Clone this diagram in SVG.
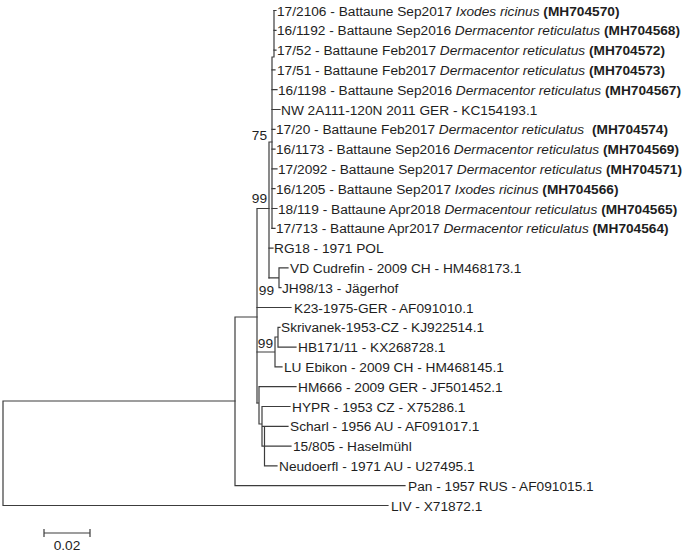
<svg xmlns="http://www.w3.org/2000/svg" width="685" height="554" viewBox="0 0 685 554">
<style>
.t{font-family:"Liberation Sans",Arial,sans-serif;font-size:13.7px;fill:#1e1e1e}
.bs{font-family:"Liberation Sans",Arial,sans-serif;font-size:13.7px;fill:#1e1e1e;text-anchor:end}
.i{font-style:italic}
.b{font-weight:bold}
.br{stroke:#3c3c3c;stroke-width:1.2;fill:none;stroke-linecap:square}
</style>
<rect width="685" height="554" fill="#ffffff"/>
<g id="branches" class="br">
<path d="M3,401V505.5M3,505.5H388M3,401H235"/>
<path d="M235,317V485.7M235,485.7H405M235,317H257"/>
<path d="M257,208.5V403M257,208.5H269"/>
<path d="M269,142V277.8M269,142H272"/>
<path d="M272,57V228.3M272,57H274M274,10.5V57"/>
<path d="M274,10.5H276M274,30.3H276M274,50.1H276"/>
<path d="M272,69.9H275M272,89.7H277M272,109.5H280M272,129.3H275M272,149.1H275M272,168.9H277M272,188.7H275M272,208.5H277M272,228.3H275"/>
<path d="M269,248.1H273M269,277.8H279M279,267.9V287.7M279,267.9H288M279,287.7H281"/>
<path d="M257,307.5H291"/>
<path d="M257,352H275M275,337V366.9M275,337H278M278,327.3V347.1M278,327.3H280M278,347.1H296M275,366.9H282"/>
<path d="M257,403H259M259,386.7V424M259,386.7H296M259,424H262M262,406.5V446.1M262,406.5H290M262,426.3H288M262,446.1H291M264.5,426.3V465.9M264.5,465.9H277"/>
</g>
<g id="bootstrap">
<text class="bs" x="267" y="140">75</text>
<text class="bs" x="267" y="203">99</text>
<text class="bs" x="274" y="295">99</text>
<text class="bs" x="273" y="348">99</text>
</g>
<g id="leaf1"><text class="t" x="277" y="15.5">17/2106 - Battaune Sep2017 <tspan class="i">Ixodes ricinus</tspan> <tspan class="b">(MH704570)</tspan></text></g>
<g id="leaf2"><text class="t" x="277" y="35.3">16/1192 - Battaune Sep2016 <tspan class="i">Dermacentor reticulatus</tspan> <tspan class="b">(MH704568)</tspan></text></g>
<g id="leaf3"><text class="t" x="277" y="55.1">17/52 - Battaune Feb2017 <tspan class="i">Dermacentor reticulatus</tspan> <tspan class="b">(MH704572)</tspan></text></g>
<g id="leaf4"><text class="t" x="277" y="74.9">17/51 - Battaune Feb2017 <tspan class="i">Dermacentor reticulatus</tspan> <tspan class="b">(MH704573)</tspan></text></g>
<g id="leaf5"><text class="t" x="278" y="94.7">16/1198 - Battaune Sep2016 <tspan class="i">Dermacentor reticulatus</tspan> <tspan class="b">(MH704567)</tspan></text></g>
<g id="leaf6"><text class="t" x="281" y="114.5">NW 2A111-120N 2011 GER - KC154193.1</text></g>
<g id="leaf7"><text class="t" x="276" y="134.3">17/20 - Battaune Feb2017 <tspan class="i">Dermacentor reticulatus</tspan> <tspan class="b" dx="4">(MH704574)</tspan></text></g>
<g id="leaf8"><text class="t" x="276" y="154.1">16/1173 - Battaune Sep2016 <tspan class="i">Dermacentor reticulatus</tspan> <tspan class="b">(MH704569)</tspan></text></g>
<g id="leaf9"><text class="t" x="278" y="173.9">17/2092 - Battaune Sep2017 <tspan class="i">Dermacentor reticulatus</tspan> <tspan class="b">(MH704571)</tspan></text></g>
<g id="leaf10"><text class="t" x="276" y="193.7">16/1205 - Battaune Sep2017 <tspan class="i">Ixodes ricinus</tspan> <tspan class="b">(MH704566)</tspan></text></g>
<g id="leaf11"><text class="t" x="278" y="213.5">18/119 - Battaune Apr2018 <tspan class="i">Dermacentour reticulatus</tspan> <tspan class="b">(MH704565)</tspan></text></g>
<g id="leaf12"><text class="t" x="276" y="233.3">17/713 - Battaune Apr2017 <tspan class="i">Dermacentor reticulatus</tspan> <tspan class="b">(MH704564)</tspan></text></g>
<g id="leaf13"><text class="t" x="274" y="253.1">RG18 - 1971 POL</text></g>
<g id="leaf14"><text class="t" x="290" y="272.9">VD Cudrefin - 2009 CH - HM468173.1</text></g>
<g id="leaf15"><text class="t" x="282" y="292.7">JH98/13 - Jägerhof</text></g>
<g id="leaf16"><text class="t" x="294" y="312.5">K23-1975-GER - AF091010.1</text></g>
<g id="leaf17"><text class="t" x="281" y="332.3">Skrivanek-1953-CZ - KJ922514.1</text></g>
<g id="leaf18"><text class="t" x="298" y="352.1">HB171/11 - KX268728.1</text></g>
<g id="leaf19"><text class="t" x="284" y="371.9">LU Ebikon - 2009 CH - HM468145.1</text></g>
<g id="leaf20"><text class="t" x="298" y="391.7">HM666 - 2009 GER - JF501452.1</text></g>
<g id="leaf21"><text class="t" x="292" y="411.5">HYPR - 1953 CZ - X75286.1</text></g>
<g id="leaf22"><text class="t" x="290" y="431.3">Scharl - 1956 AU - AF091017.1</text></g>
<g id="leaf23"><text class="t" x="293" y="451.1">15/805 - Haselmühl</text></g>
<g id="leaf24"><text class="t" x="279" y="470.9">Neudoerfl - 1971 AU - U27495.1</text></g>
<g id="leaf25"><text class="t" x="408" y="490.7">Pan - 1957 RUS - AF091015.1</text></g>
<g id="leaf26"><text class="t" x="391" y="510.5">LIV - X71872.1</text></g>
<g id="scalebar">
<path class="br" d="M44,533H90M44,529.5V536.5M90,529.5V536.5"/>
<text class="t" x="67" y="550" text-anchor="middle">0.02</text>
</g>
</svg>
